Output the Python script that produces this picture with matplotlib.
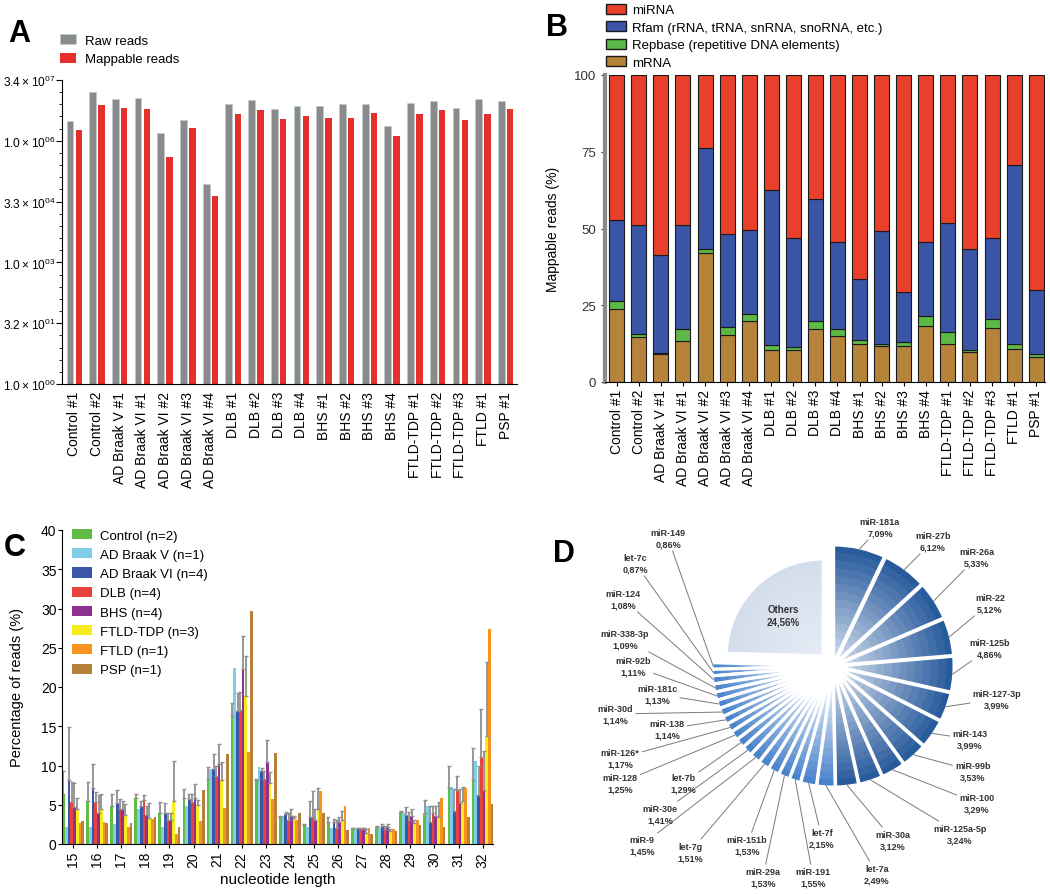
import numpy as np
import matplotlib
matplotlib.use("Agg")
import matplotlib.pyplot as plt
from matplotlib.patches import Patch
from matplotlib.colors import to_rgb

plt.rcParams['font.family'] = ['Liberation Sans', 'DejaVu Sans']
plt.rcParams['mathtext.fontset'] = 'custom'
plt.rcParams['mathtext.rm'] = 'Liberation Sans'

# ---------- data ----------
samples = ['Control #1', 'Control #2', 'AD Braak V #1', 'AD Braak VI #1', 'AD Braak VI #2',
           'AD Braak VI #3', 'AD Braak VI #4', 'DLB #1', 'DLB #2', 'DLB #3', 'DLB #4',
           'BHS #1', 'BHS #2', 'BHS #3', 'BHS #4', 'FTLD-TDP #1', 'FTLD-TDP #2',
           'FTLD-TDP #3', 'FTLD #1', 'PSP #1']

# panel A (reads)
raw_reads = [3.0e6, 1.6e7, 1.07e7, 1.12e7, 1.55e6, 3.3e6, 8.5e4, 7.9e6, 1.02e7, 6.2e6,
             7.2e6, 7.4e6, 7.9e6, 7.9e6, 2.3e6, 8.5e6, 9.5e6, 6.5e6, 1.05e7, 9.5e6]
mappable_reads = [1.8e6, 7.8e6, 6.5e6, 6.2e6, 4.0e5, 2.1e6, 4.4e4, 4.7e6, 5.8e6, 3.4e6,
                  4.1e6, 3.7e6, 3.7e6, 4.9e6, 1.3e6, 4.5e6, 5.6e6, 3.3e6, 4.7e6, 6.2e6]
a_ticks = [1, 10 ** 1.5, 1e3, 10 ** 4.5, 1e6, 10 ** 7.5]
a_ticklabels = [r'$\mathregular{1.0\times10^{00}}$', r'$\mathregular{3.2\times10^{01}}$',
                r'$\mathregular{1.0\times10^{03}}$', r'$\mathregular{3.3\times10^{04}}$',
                r'$\mathregular{1.0\times10^{06}}$', r'$\mathregular{3.4\times10^{07}}$']

# panel B (% of mappable reads)
mrna = [23.7, 14.7, 9.0, 13.4, 41.9, 15.4, 19.9, 10.4, 10.3, 17.4,
        14.9, 12.3, 11.7, 11.7, 18.2, 12.5, 9.8, 17.6, 10.6, 8.1]
repbase = [2.8, 1.0, 0.6, 3.8, 1.3, 2.4, 2.4, 1.5, 1.1, 2.5,
           2.3, 1.3, 0.8, 1.3, 3.2, 3.8, 0.5, 3.0, 1.7, 0.9]
rfam = [26.2, 35.5, 31.9, 34.0, 33.0, 30.5, 27.1, 50.5, 35.5, 39.8,
        28.4, 20.1, 36.7, 16.3, 24.2, 35.5, 33.1, 26.3, 58.3, 20.9]
mirna = [47.3, 48.8, 58.5, 48.8, 23.8, 51.7, 50.6, 37.6, 53.1, 40.3,
         54.4, 66.3, 50.8, 70.7, 54.4, 48.2, 56.6, 53.1, 29.4, 70.1]

# panel C (length distribution)
lengths = list(range(15, 33))
c_groups = ['Control (n=2)', 'AD Braak V (n=1)', 'AD Braak VI (n=4)', 'DLB (n=4)',
            'BHS (n=4)', 'FTLD-TDP (n=3)', 'FTLD (n=1)', 'PSP (n=1)']
control = [6.4, 5.5, 4.9, 5.8, 4.0, 5.8, 8.3, 16.3, 8.2, 3.4, 2.4, 2.8, 2.0, 2.2, 4.1, 4.0, 7.1, 8.2]
control_err = [2.9, 2.4, 1.5, 0.6, 1.3, 1.2, 1.5, 1.6, 0.1, 0.2, 0.1, 0.6, 0.0, 0.1, 0.1, 1.6, 2.9, 4.0]
ad_v = [2.2, 2.2, 2.5, 4.5, 2.2, 4.9, 9.5, 22.4, 9.8, 3.6, 2.2, 2.0, 1.9, 2.1, 4.0, 4.9, 7.3, 10.6]
ad_vi = [8.1, 7.1, 5.2, 4.9, 4.0, 5.7, 9.5, 17.0, 9.3, 3.8, 3.4, 2.8, 2.0, 2.3, 3.7, 2.8, 4.2, 6.2]
ad_vi_err = [6.8, 3.1, 1.7, 0.6, 1.2, 0.7, 2.0, 2.2, 0.4, 0.3, 2.1, 0.4, 0.1, 0.2, 1.0, 2.1, 2.8, 3.8]
dlb = [5.3, 5.4, 4.4, 5.6, 3.1, 5.3, 8.7, 17.1, 8.3, 3.1, 3.4, 2.1, 1.9, 1.9, 3.0, 4.0, 6.9, 11.1]
dlb_err = [2.6, 1.2, 1.3, 0.6, 0.8, 1.1, 1.3, 2.2, 1.0, 0.9, 3.3, 0.9, 0.1, 0.4, 1.1, 0.9, 1.7, 6.1]
bhs = [4.7, 4.0, 4.5, 3.7, 3.0, 5.8, 10.2, 22.3, 10.5, 3.6, 3.0, 2.8, 2.0, 2.2, 3.6, 3.6, 5.2, 6.9]
bhs_err = [3.1, 2.2, 1.0, 1.1, 0.9, 1.8, 2.5, 4.2, 2.7, 0.9, 1.5, 0.6, 0.1, 0.3, 0.9, 1.3, 1.8, 5.0]
ftld_tdp = [4.4, 4.5, 3.7, 3.3, 5.5, 5.0, 8.1, 18.9, 7.8, 3.3, 4.5, 3.1, 1.4, 1.7, 2.7, 3.4, 5.5, 13.8]
ftld_tdp_err = [1.4, 1.9, 1.4, 1.9, 5.1, 0.6, 2.4, 5.1, 1.4, 0.3, 2.6, 1.1, 0.5, 0.2, 0.3, 1.9, 1.7, 9.4]
ftld = [2.7, 2.8, 2.2, 3.2, 1.3, 2.9, 4.6, 11.7, 5.7, 3.1, 6.8, 4.8, 2.0, 1.9, 3.1, 5.8, 7.1, 27.4]
psp = [2.9, 2.7, 2.7, 3.4, 2.2, 6.9, 11.5, 29.7, 11.6, 3.9, 3.9, 1.8, 1.3, 1.7, 2.4, 2.2, 3.4, 5.1]

# panel D (top miRNAs)
mirs = ['miR-181a', 'miR-27b', 'miR-26a', 'miR-22', 'miR-125b', 'miR-127-3p', 'miR-143',
        'miR-99b', 'miR-100', 'miR-125a-5p', 'miR-30a', 'let-7a', 'let-7f', 'miR-191',
        'miR-29a', 'miR-151b', 'let-7g', 'miR-9', 'miR-30e', 'let-7b', 'miR-128',
        "miR-126*", 'miR-138', 'miR-30d', 'miR-181c', 'miR-92b', 'miR-338-3p', 'miR-124',
        'let-7c', 'miR-149', 'Others']
mir_pct = [7.09, 6.12, 5.33, 5.12, 4.86, 3.99, 3.99, 3.53, 3.29, 3.24, 3.12, 2.49, 2.15, 1.55,
           1.53, 1.53, 1.51, 1.45, 1.41, 1.29, 1.25, 1.17, 1.14, 1.14, 1.13, 1.11, 1.09, 1.08,
           0.87, 0.86, 24.56]

# label positions for panel D (image pixels, from top-left)
d_label_px = [(880, 528), (933, 542), (977, 558), (990, 604), (990, 649), (997, 700),
              (970, 740), (973, 772), (977, 804), (960, 835), (893, 841), (877, 875),
              (822, 839), (813, 878), (763, 878), (747, 846), (690, 853), (642, 846),
              (660, 815), (683, 784), (620, 784), (620, 759), (667, 730), (615, 715),
              (657, 695), (633, 667), (625, 640), (623, 600), (635, 564), (668, 539)]

W, H = 1050, 895
fig = plt.figure(figsize=(W / 100, H / 100), dpi=100)

# ---------- A ----------
axA = fig.add_axes([62 / W, 1 - 385 / H, 455 / W, 304 / H])
x = np.arange(len(samples))
axA.bar(x - 0.19, raw_reads, width=0.3, color='#8a8a8a', edgecolor='#b9cdd6', linewidth=0.5,
        label='Raw reads')
axA.bar(x + 0.2, mappable_reads, width=0.28, color='#e3302a', linewidth=0, label='Mappable reads')
axA.set_yscale('log')
axA.set_ylim(1, 10 ** 7.5)
axA.set_xlim(-0.54, 19.5)
axA.set_yticks(a_ticks)
axA.set_yticklabels(a_ticklabels, fontsize=8.6)
axA.yaxis.set_minor_locator(matplotlib.ticker.FixedLocator(10 ** np.arange(0, 7.6, 0.3)))
axA.yaxis.set_minor_formatter(matplotlib.ticker.NullFormatter())
axA.tick_params(axis='y', which='minor', length=2.5)
axA.tick_params(axis='y', which='major', length=4, pad=1)
axA.set_xticks(x)
axA.set_xticklabels(samples, rotation=90, fontsize=10)
axA.tick_params(axis='x', length=0, pad=5)
for s in ['top', 'right']:
    axA.spines[s].set_visible(False)
axA.legend(loc='upper left', bbox_to_anchor=(60 / W, 1 - 35 / H), bbox_transform=fig.transFigure,
           frameon=False, fontsize=9.5, handlelength=1.2, handleheight=0.8,
           handletextpad=0.7, labelspacing=0.45, borderaxespad=0, borderpad=0)
fig.text(8 / W, 1 - 42 / H, 'A', fontsize=22, fontweight='bold')

# ---------- B ----------
axB = fig.add_axes([605 / W, 1 - 383 / H, 440 / W, 307 / H])
bottom = np.zeros(len(samples))
b_series = [(mrna, '#b5833a', 'mRNA'), (repbase, '#5cb947', 'Repbase (repetitive DNA elements)'),
            (rfam, '#3a55a6', 'Rfam (rRNA, tRNA, snRNA, snoRNA, etc.)'), (mirna, '#e8402a', 'miRNA')]
for vals, col, lab in b_series:
    axB.bar(x, vals, bottom=bottom, width=0.68, color=col, edgecolor='#1a1a1a', linewidth=0.8)
    bottom += np.array(vals)
axB.set_ylim(0, 100)
axB.set_xlim(-0.53, 19.4)
axB.set_yticks([0, 25, 50, 75, 100])
axB.tick_params(axis='y', labelsize=9.5, colors='#333333', length=3)
axB.set_xticks(x)
axB.set_xticklabels(samples, rotation=90, fontsize=10)
axB.tick_params(axis='x', length=3, pad=2)
axB.set_ylabel('Mappable reads (%)', fontsize=10, labelpad=10)
for s in ['top', 'right']:
    axB.spines[s].set_visible(False)
axB.spines['left'].set_color('#8a8a8a')
axB.spines['left'].set_linewidth(3)
b_handles = [Patch(facecolor=col, edgecolor='#1a1a1a', label=lab) for _, col, lab in b_series[::-1]]
axB.legend(handles=b_handles, loc='upper left', bbox_to_anchor=(606 / W, 1 - 5 / H),
           bbox_transform=fig.transFigure, frameon=False, fontsize=9.5, handlelength=1.5,
           handleheight=0.75, handletextpad=0.5, labelspacing=0.38, borderaxespad=0, borderpad=0)
fig.text(546 / W, 1 - 36 / H, 'B', fontsize=22, fontweight='bold')

# ---------- C ----------
axC = fig.add_axes([62 / W, 1 - 845 / H, 431 / W, 314 / H])
c_vals = [control, ad_v, ad_vi, dlb, bhs, ftld_tdp, ftld, psp]
c_errs = [control_err, None, ad_vi_err, dlb_err, bhs_err, ftld_tdp_err, None, None]
c_colors = ['#62bb47', '#7fcde6', '#3a57a7', '#e8423c', '#8e2f91', '#f6ec1c', '#f7941d', '#b5803a']
xc = np.arange(len(lengths))
bw = 0.114
for i, (vals, col, lab) in enumerate(zip(c_vals, c_colors, c_groups)):
    pos = xc + (i - 3.5) * bw
    axC.bar(pos, vals, width=bw, color=col, linewidth=0, label=lab)
for i, errs in enumerate(c_errs):
    if errs is None:
        continue
    pos = xc + (i - 3.5) * bw
    axC.errorbar(pos, c_vals[i], yerr=[np.zeros(len(errs)), errs], fmt='none',
                 ecolor='#8f8f8f', elinewidth=1.3, capsize=1.2, capthick=1)
axC.set_ylim(0, 40)
axC.set_xlim(-0.46, 17.43)
axC.set_yticks(range(0, 41, 5))
axC.tick_params(axis='y', labelsize=10, length=3, pad=1)
axC.set_xticks(xc)
axC.set_xticklabels(lengths, rotation=90, fontsize=10)
axC.tick_params(axis='x', length=3, pad=2)
axC.set_xlabel('nucleotide length', fontsize=11, labelpad=4)
axC.set_ylabel('Percentage of reads (%)', fontsize=10.5, labelpad=12)
for s in ['top', 'right']:
    axC.spines[s].set_visible(False)
axC.legend(loc='upper left', bbox_to_anchor=(72 / W, 1 - 530 / H), bbox_transform=fig.transFigure,
           frameon=False, fontsize=9.5, handlelength=1.5, handleheight=0.8,
           handletextpad=0.6, labelspacing=0.5, borderaxespad=0, borderpad=0)
fig.text(4 / W, 1 - 556 / H, 'C', fontsize=22, fontweight='bold')

# ---------- D ----------
cx, cy, half = 833, 667, 150
axD = fig.add_axes([(cx - half) / W, 1 - (cy + half) / H, 2 * half / W, 2 * half / H])
axD.set_aspect('equal')
axD.axis('off')

n = len(mir_pct)
explode = [0.025] * (n - 1) + [0.12]
others_scale = 0.82
outer = []
inner = []
for i in range(n):
    if i == n - 1:
        outer.append('#d3ddeb'); inner.append('#e4eaf4')
    elif i < 11:
        outer.append('#285b9c'); inner.append('#c3d1e6')
    else:
        outer.append('#4a84cc'); inner.append('#eef3fa')
layers = 14
for k in range(layers):
    r = 1.0 - k * (0.92 / layers)
    t = k / (layers - 1)
    cols = [tuple((1 - t) * np.array(to_rgb(o)) + t * np.array(to_rgb(q))) for o, q in zip(outer, inner)]
    lw, _ = axD.pie(mir_pct, radius=r, colors=cols, startangle=90, counterclock=False,
                    explode=explode, wedgeprops=dict(linewidth=0))
    lw[-1].set_radius(r * others_scale)
wedges, _ = axD.pie(mir_pct, radius=1.0, colors=['none'] * n, startangle=90, counterclock=False,
                    explode=explode, wedgeprops=dict(linewidth=2.2, edgecolor='white'))
wedges[-1].set_radius(others_scale)
axD.set_xlim(-1.27, 1.27)
axD.set_ylim(-1.27, 1.27)

for i, w in enumerate(wedges):
    ang = np.deg2rad((w.theta1 + w.theta2) / 2)
    c0 = w.center
    pct_txt = f"{mir_pct[i]:.2f}".replace('.', ',') + '%'
    if i == n - 1:
        axD.text(c0[0] + 0.48 * np.cos(ang), c0[1] + 0.48 * np.sin(ang), f"{mirs[i]}\n{pct_txt}",
                 ha='center', va='center', fontsize=7, fontweight='bold', color='#333333',
                 linespacing=1.3)
        continue
    px, py = d_label_px[i]
    axD.annotate(f"{mirs[i]}\n{pct_txt}", xy=(c0[0] + 0.99 * np.cos(ang), c0[1] + 0.99 * np.sin(ang)),
                 xytext=(px, H - py), textcoords='figure pixels', ha='center', va='center',
                 fontsize=6.5, fontweight='bold', color='#333333', linespacing=1.3,
                 arrowprops=dict(arrowstyle='-', color='#7a7a7a', lw=0.7, shrinkA=0, shrinkB=0))
fig.text(553 / W, 1 - 562 / H, 'D', fontsize=22, fontweight='bold')

fig.savefig('out.png', dpi=100)
